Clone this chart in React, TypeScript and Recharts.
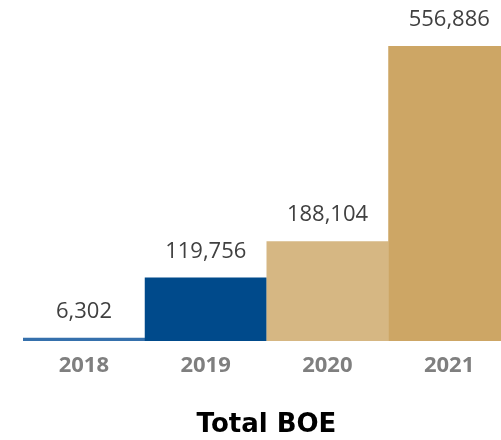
import React from "react";
import { BarChart, Bar, XAxis, YAxis, Cell, LabelList, Label } from "recharts";

const years = ["2018", "2019", "2020", "2021"];
const boe = [6302, 119756, 188104, 556886];
const barColors = ["#3570ac", "#004a8b", "#d6b783", "#cda665"];

const data = years.map((year, i) => ({ year, boe: boe[i] }));

const renderValueLabel = (props: any) => {
  const { x = 0, y = 0, width = 0, value = 0 } = props;
  return (
    <text
      x={Number(x) + Number(width) / 2}
      y={Number(y) - 20}
      textAnchor="middle"
      fill="#404040"
      fontSize={22}
      fontFamily="'Open Sans', sans-serif"
    >
      {Number(value).toLocaleString("en-US")}
    </text>
  );
};

const renderTick = (props: any) => {
  const { x, y, payload } = props;
  return (
    <text
      x={x}
      y={y + 31}
      textAnchor="middle"
      fill="#7f7f7f"
      fontSize={22}
      fontWeight="bold"
      fontFamily="'Open Sans', sans-serif"
    >
      {payload.value}
    </text>
  );
};

const App: React.FC = () => {
  return (
    <div style={{ width: 485, height: 432, marginBottom: -8 }}>
      <div
        style={{
          position: "fixed",
          left: 8,
          top: 8,
          width: 493,
          height: 432,
          overflow: "hidden",
        }}
      >
        <BarChart
          width={493}
          height={432}
          data={data}
          margin={{ top: 38, right: -9, bottom: 0, left: 15 }}
          barCategoryGap={0}
          barGap={0}
        >
          <YAxis hide domain={[0, 556886]} />
          <XAxis
            dataKey="year"
            axisLine={false}
            tickLine={false}
            tickSize={0}
            tickMargin={0}
            height={99}
            tick={renderTick}
            interval={0}
          >
            <Label
              value="Total BOE"
              position="insideBottom"
              offset={8}
              fill="#000000"
              fontSize={26}
              fontWeight="bold"
              fontFamily="'DejaVu Sans', sans-serif"
            />
          </XAxis>
          <Bar dataKey="boe" isAnimationActive={false}>
            {data.map((_, index) => (
              <Cell key={`bar-${index}`} fill={barColors[index]} />
            ))}
            <LabelList dataKey="boe" content={renderValueLabel} />
          </Bar>
        </BarChart>
      </div>
    </div>
  );
};

export default App;
